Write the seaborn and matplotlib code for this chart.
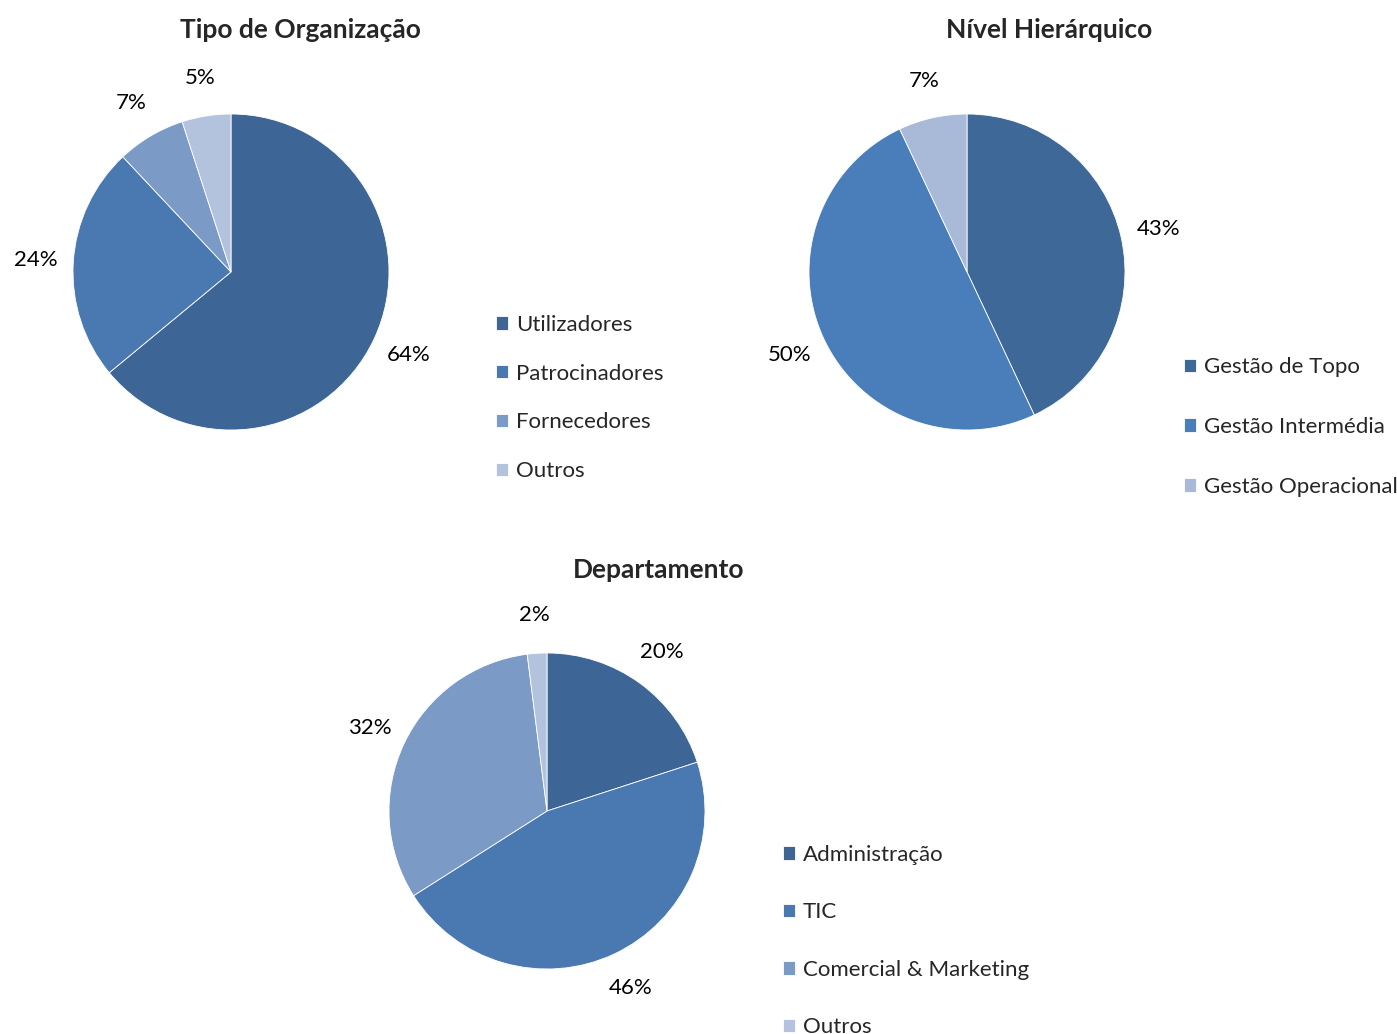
import matplotlib
matplotlib.use("Agg")
import matplotlib.pyplot as plt
import seaborn as sns

# Data
org_labels = ["Utilizadores", "Patrocinadores", "Fornecedores", "Outros"]
org_values = [64, 24, 7, 5]
org_colors = ["#3D6595", "#4A78B0", "#7B9AC6", "#B4C3DD"]

nivel_labels = ["Gestão de Topo", "Gestão Intermédia", "Gestão Operacional"]
nivel_values = [43, 50, 7]
nivel_colors = ["#3E6898", "#4A7EBB", "#A9B9D8"]

dep_labels = ["Administração", "TIC", "Comercial & Marketing", "Outros"]
dep_values = [20, 46, 32, 2]
dep_colors = ["#3D6595", "#4A78B0", "#7B9AC6", "#B4C3DD"]

sns.set_theme(style="white")
plt.rcParams["font.family"] = ["Lato", "DejaVu Sans"]

W, H = 1397, 1034
fig = plt.figure(figsize=(W / 100, H / 100), dpi=100)
R = 158


def pie_axes(cx, cy):
    return fig.add_axes([(cx - R) / W, (H - cy - R) / H, 2 * R / W, 2 * R / H])


def draw(cx, cy, values, labels, colors, title, title_xy, leg_xy, spacing):
    ax = pie_axes(cx, cy)
    wedges, _, autotexts = ax.pie(
        values, colors=colors, startangle=90, counterclock=False,
        autopct=lambda p: f"{p:.0f}%", pctdistance=1.24,
        wedgeprops=dict(linewidth=0.6, edgecolor="white"),
        textprops=dict(fontsize=16, color="black"),
    )
    ax.set_xlim(-1, 1)
    ax.set_ylim(-1, 1)
    ax.set_aspect("equal")
    ax.axis("off")
    fig.text(title_xy[0] / W, 1 - title_xy[1] / H, title, ha="center", va="center",
             fontsize=19, fontweight="bold")
    fig.legend(wedges, labels, loc="center left",
               bbox_to_anchor=(leg_xy[0] / W, 1 - leg_xy[1] / H),
               frameon=False, fontsize=16, handlelength=0.55, handleheight=0.55,
               handletextpad=0.35, labelspacing=spacing, borderpad=0, borderaxespad=0)
    return ax


draw(231, 272, org_values, org_labels, org_colors, "Tipo de Organização",
     (300, 30), (496, 398), 1.3)
draw(967, 272, nivel_values, nivel_labels, nivel_colors, "Nível Hierárquico",
     (1049, 30), (1184, 427), 1.79)
draw(547, 811, dep_values, dep_labels, dep_colors, "Departamento",
     (659, 570), (783, 941), 1.69)

fig.savefig("out.png", dpi=100, facecolor="white")
